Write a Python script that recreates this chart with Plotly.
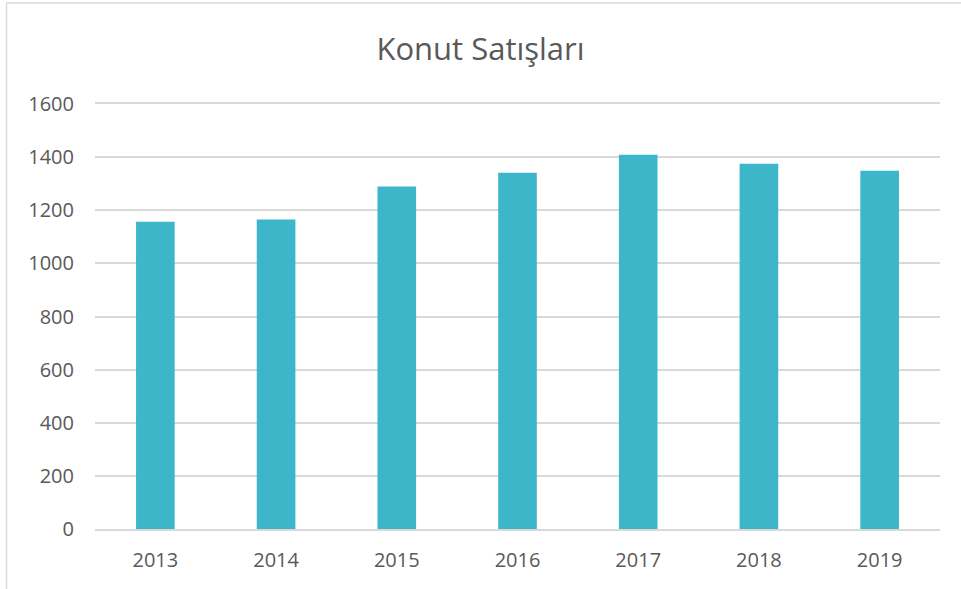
import plotly.graph_objects as go

years = ["2013", "2014", "2015", "2016", "2017", "2018", "2019"]
sales = [1157, 1165, 1289, 1341, 1409, 1375, 1349]
y_ticks = [0, 200, 400, 600, 800, 1000, 1200, 1400, 1600]

W, H = 961, 589
L, R, T, B = 95, 21, 104, 60
pw, ph = W - L - R, H - T - B

def px_x(p):
    return (p - L) / pw

def px_y(p):
    return (H - B - p) / ph

fig = go.Figure(go.Bar(
    x=years, y=sales,
    marker=dict(color="#3DB6C9", line=dict(width=0)),
    width=0.32,
))

fig.update_layout(
    width=W, height=H,
    margin=dict(l=L, r=R, t=T, b=B),
    paper_bgcolor="white", plot_bgcolor="white",
    showlegend=False,
    title=dict(text="Konut Satışları", x=0.5, xanchor="center",
               y=1 - 49 / H, yanchor="middle",
               font=dict(family="Open Sans", size=31, color="#595959")),
    font=dict(family="Open Sans", size=20, color="#595959"),
    xaxis=dict(showgrid=False, showline=True, mirror=True,
               linecolor="#D9D9D9", linewidth=1.5,
               ticks="", ticklabelstandoff=12, range=[-0.5, 6.5],
               tickfont=dict(size=20, color="#595959")),
    yaxis=dict(range=[0, 1600], tickvals=y_ticks, showgrid=True,
               gridcolor="#D9D9D9", gridwidth=1.5, zeroline=False,
               showline=False, ticks="", ticklabelstandoff=20,
               tickfont=dict(size=20, color="#595959")),
    shapes=[
        dict(type="line", xref="paper", yref="paper",
             x0=px_x(6.5), x1=px_x(961), y0=px_y(3), y1=px_y(3),
             line=dict(color="#D9D9D9", width=1.5)),
        dict(type="line", xref="paper", yref="paper",
             x0=px_x(6.5), x1=px_x(6.5), y0=px_y(3), y1=px_y(589),
             line=dict(color="#D9D9D9", width=1.5)),
    ],
)

fig.write_html("out.html", config={"displayModeBar": False},
               post_script=["document.body.style.margin='0';"])
